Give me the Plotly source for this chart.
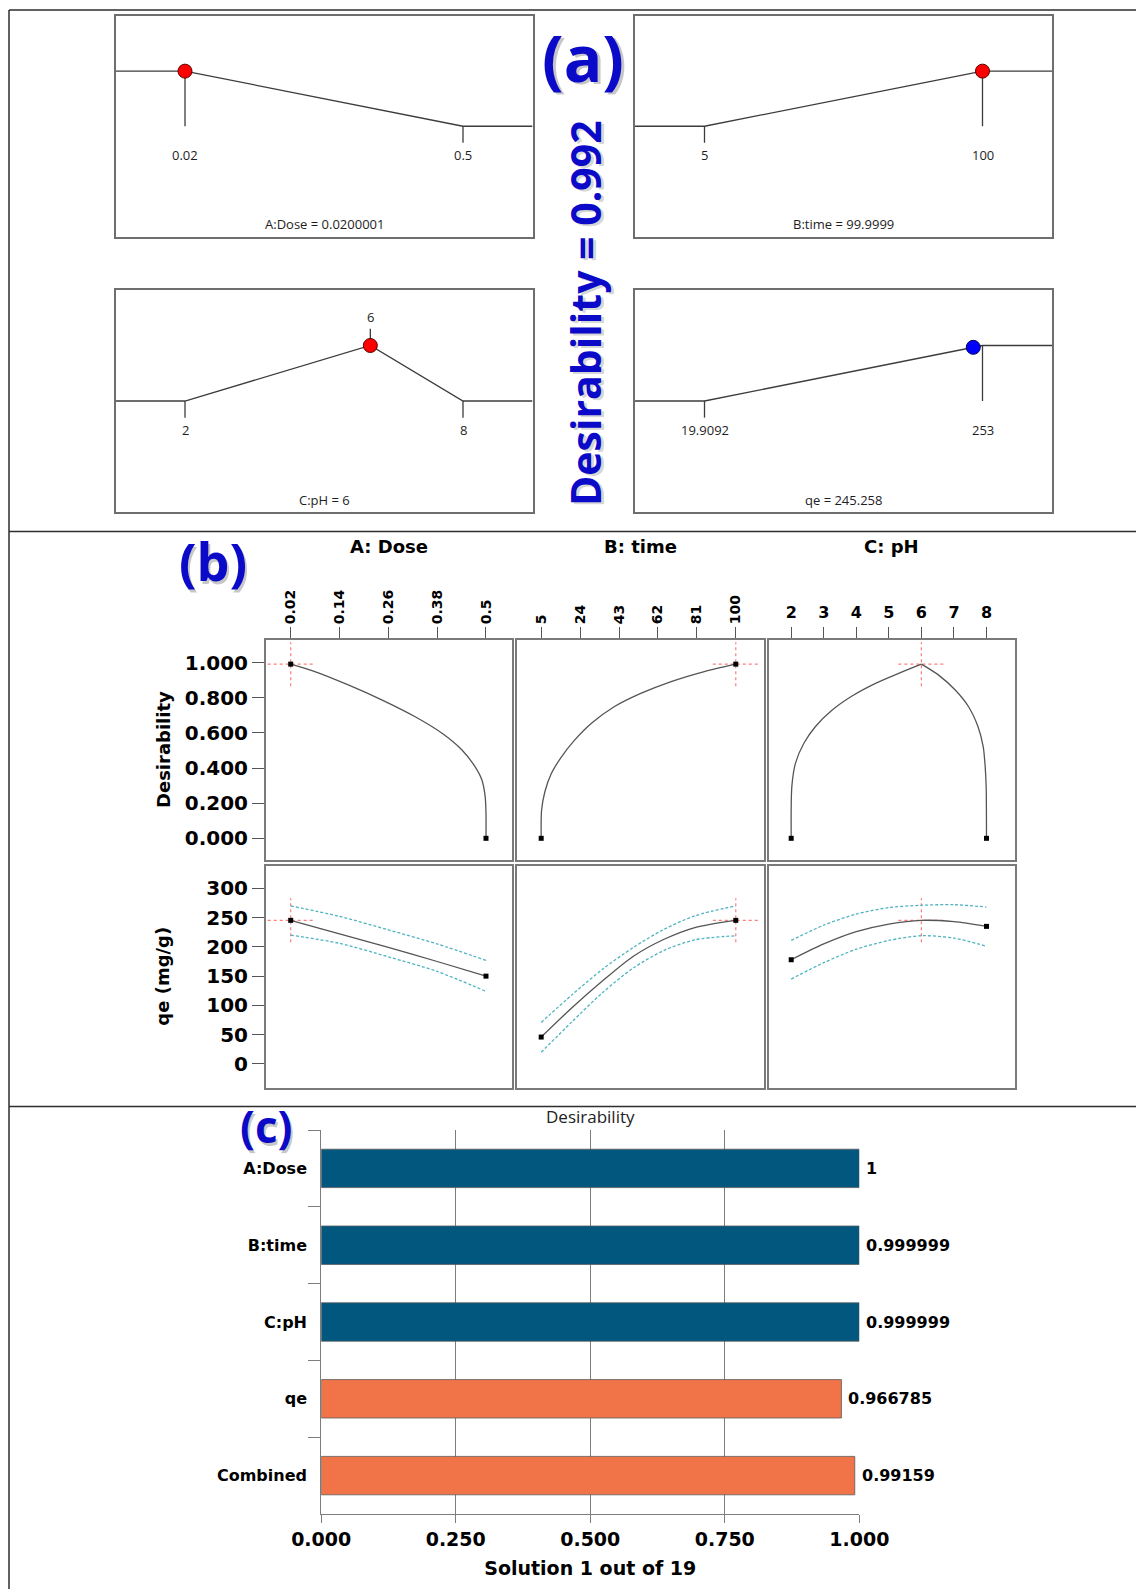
import plotly.graph_objects as go

W, H = 1144, 1589
OFF = 8  # the page body margin shifts the whole figure by this many pixels

# ======================= DATA =======================
# (a) optimisation ramps
ramp_low = [0.02, 5, 2, 19.9092]
ramp_high = [0.5, 100, 8, 253]
ramp_goal = ["minimize", "maximize", "target", "maximize"]
ramp_target = [None, None, 6, None]
ramp_low_text = ["0.02", "5", "2", "19.9092"]
ramp_high_text = ["0.5", "100", "8", "253"]
ramp_target_text = [None, None, "6", None]
solution_values = [0.0200001, 99.9999, 6, 245.258]
solution_labels = ["A:Dose = 0.0200001", "B:time = 99.9999", "C:pH = 6", "qe = 245.258"]
solution_dot_color = ["#ff0000", "#ff0000", "#ff0000", "#0000ff"]
overall_desirability_text = "Desirability = 0.992"

# (b) factor effect plots
factor_titles = ["A: Dose", "B: time", "C: pH"]
factor_ticks = [[0.02, 0.14, 0.26, 0.38, 0.5],
                [5, 24, 43, 62, 81, 100],
                [2, 3, 4, 5, 6, 7, 8]]
factor_opt = [0.02, 100, 6]
opt_desirability = 0.99159
opt_qe = 245.258
des_ticks = [0, 0.2, 0.4, 0.6, 0.8, 1.0]
qe_ticks = [0, 50, 100, 150, 200, 250, 300]

desA_x = [0.02, 0.081, 0.163, 0.245, 0.326, 0.392, 0.441, 0.473, 0.490, 0.498, 0.5, 0.5]
desA_y = [0.99159, 0.948, 0.872, 0.787, 0.692, 0.598, 0.503, 0.408, 0.332, 0.237, 0.142, 0.0]
desB_x = [5, 5.2, 6.8, 10.0, 14.9, 21.3, 29.4, 40.6, 53.6, 68.1, 84.2, 100]
desB_y = [0.0, 0.161, 0.265, 0.37, 0.464, 0.559, 0.654, 0.749, 0.825, 0.891, 0.948, 0.99159]
desC_x = [2.0, 2.02, 2.13, 2.39, 2.74, 3.26, 3.87, 4.59, 5.30, 6.0,
          6.53, 7.04, 7.45, 7.74, 7.90, 7.96, 7.99, 8.0]
desC_y = [0.0, 0.294, 0.427, 0.541, 0.635, 0.730, 0.81, 0.882, 0.939, 0.99159,
          0.929, 0.844, 0.749, 0.635, 0.521, 0.408, 0.294, 0.0]

qeA_x = [0.02, 0.14, 0.26, 0.38, 0.5]
qeA = [245.3, 222, 199, 175, 150]
qeA_hi = [270, 252, 229, 205, 177]
qeA_lo = [220, 206, 183, 158, 124]
qeB_x = [5, 20, 35, 50, 65, 80, 100]
qeB = [46, 96, 142, 184, 213, 233, 245.3]
qeB_hi = [71, 118, 162, 199, 230, 253, 270]
qeB_lo = [20, 72, 122, 164, 194, 212, 219]
qeC_x = [2, 3, 4, 5, 6, 7, 8]
qeC = [178, 205, 226, 239, 245.3, 243, 235]
qeC_hi = [211, 237, 256, 267, 271, 272, 268]
qeC_lo = [145, 173, 196, 211, 219, 215, 201]

# (c) desirability bars
bar_labels = ["A:Dose", "B:time", "C:pH", "qe", "Combined"]
bar_values = [1, 0.999999, 0.999999, 0.966785, 0.99159]
bar_colors = ["#02577f", "#02577f", "#02577f", "#f07448", "#f07448"]
bar_xticks = [0, 0.25, 0.5, 0.75, 1.0]
bar_xtitle = "Solution 1 out of 19"
bar_title = "Desirability"

# ======================= FIGURE =======================
fig = go.Figure()
BLUE = "#0a0ac8"
BOLD = "DejaVu Sans"
THIN = "Open Sans"


def dom_x(p0, p1):
    return [max(0, (p0 - OFF) / W), min(1, (p1 - OFF) / W)]


def dom_y(p0, p1):
    return [max(0, 1 - (p1 - OFF) / H), min(1, 1 - (p0 - OFF) / H)]


axis_count = [0]


def new_axes(xd, yd, xkw, ykw):
    axis_count[0] += 1
    n = axis_count[0]
    s = "" if n == 1 else str(n)
    fig.update_layout(**{"xaxis" + s: dict(domain=xd, anchor="y" + s, automargin=False, **xkw),
                         "yaxis" + s: dict(domain=yd, anchor="x" + s, automargin=False, **ykw)})
    return "x" + s, "y" + s


def ann_px(text, xpx, ypx, size, color, family, weight="normal", angle=0,
           xanchor="center", yanchor="middle"):
    fig.add_annotation(text=text, x=(xpx - OFF) / W, y=1 - (ypx - OFF) / H,
                       xref="paper", yref="paper",
                       showarrow=False, textangle=angle, xanchor=xanchor, yanchor=yanchor,
                       font=dict(size=size, color=color, family=family, weight=weight))


# ---------- (a) ----------
a_box_x = [(115.5, 532.5), (635, 1052), (115.5, 532.5), (635, 1052)]
a_box_y = [(16, 236.5), (16, 236.5), (290, 512), (290, 512)]
a_line = dict(color="#3c3c3c", width=1.3)
for i in range(4):
    lo, hi = ramp_low[i], ramp_high[i]
    span = hi - lo
    xmin, xmax = lo - 0.25 * span, hi + 0.25 * span
    style = dict(showline=True, mirror=True, linecolor="#6e6e6e", linewidth=1.5,
                 showgrid=False, zeroline=False, showticklabels=False, ticks="",
                 fixedrange=True)
    xr, yr = new_axes(dom_x(*a_box_x[i]), dom_y(*a_box_y[i]),
                      dict(range=[xmin, xmax], **style), dict(range=[-2, 2], **style))
    g = ramp_goal[i]
    if g == "minimize":
        rx, ry = [xmin, lo, hi, xmax], [1, 1, 0, 0]
        seg_x = [lo, lo, None, hi, hi]
        seg_y = [1, 0, None, 0, -0.3]
    elif g == "maximize":
        rx, ry = [xmin, lo, hi, xmax], [0, 0, 1, 1]
        seg_x = [lo, lo, None, hi, hi]
        seg_y = [0, -0.3, None, 1, 0]
    else:
        t = ramp_target[i]
        rx, ry = [xmin, lo, t, hi, xmax], [0, 0, 1, 0, 0]
        seg_x = [lo, lo, None, hi, hi, None, t, t]
        seg_y = [0, -0.3, None, 0, -0.3, None, 1, 1.3]
    fig.add_trace(go.Scatter(x=rx, y=ry, mode="lines", line=a_line, xaxis=xr, yaxis=yr,
                             hoverinfo="skip", showlegend=False))
    fig.add_trace(go.Scatter(x=seg_x, y=seg_y, mode="lines", line=a_line, xaxis=xr, yaxis=yr,
                             hoverinfo="skip", showlegend=False))
    sv = solution_values[i]
    if g == "minimize":
        sd = (hi - sv) / span
    elif g == "maximize":
        sd = (sv - lo) / span
    else:
        sd = 1.0
    sd = min(1.0, max(0.0, sd))
    dc = solution_dot_color[i]
    fig.add_trace(go.Scatter(x=[sv], y=[sd], mode="markers", xaxis=xr, yaxis=yr,
                             marker=dict(size=14, color=dc,
                                         line=dict(color="#5a0000" if dc == "#ff0000" else "#00005a", width=1)),
                             hoverinfo="skip", showlegend=False, cliponaxis=False))
    tf = dict(size=13, color="#1e1e1e", family=THIN)
    fig.add_annotation(x=lo, y=-0.53, xref=xr, yref=yr, text=ramp_low_text[i], showarrow=False, font=tf)
    fig.add_annotation(x=hi, y=-0.53, xref=xr, yref=yr, text=ramp_high_text[i], showarrow=False, font=tf)
    if ramp_target_text[i]:
        fig.add_annotation(x=ramp_target[i], y=1.52, xref=xr, yref=yr, text=ramp_target_text[i],
                           showarrow=False, font=tf)
    fig.add_annotation(x=(xmin + xmax) / 2, y=-1.78, xref=xr, yref=yr, text=solution_labels[i],
                       showarrow=False, font=tf)

# panel label (a) and overall desirability, with a soft shadow
ann_px("(a)", 586, 60, 64, "rgba(0,0,0,0.22)", THIN, "bold")
ann_px("(a)", 583, 57, 64, BLUE, THIN, "bold")
ann_px(overall_desirability_text, 588, 315, 41, "rgba(0,0,0,0.18)", THIN, "bold", angle=-90)
ann_px(overall_desirability_text, 585, 313, 41, BLUE, THIN, "bold", angle=-90)

# ---------- (b) ----------
col_px = [(266, 511.7), (516.9, 764), (768.6, 1015)]
row_px = [(640, 860), (865.7, 1087.7)]
x_ranges = [[-0.0407, 0.5632], [-6.86, 113.77], [1.306, 8.876]]
y_ranges = [[-0.1235, 1.129], [-40.5, 338.6]]
des_curves = [(desA_x, desA_y), (desB_x, desB_y), (desC_x, desC_y)]
qe_curves = [(qeA_x, qeA, qeA_hi, qeA_lo), (qeB_x, qeB, qeB_hi, qeB_lo), (qeC_x, qeC, qeC_hi, qeC_lo)]

curve_line = dict(color="#555555", width=1.3, shape="spline", smoothing=0.8)
ci_line = dict(color="#4fb4c0", width=1.3, dash="3px,2px", shape="spline", smoothing=0.8)
cross_line = dict(color="rgba(255,110,110,0.9)", width=1.2, dash="dot")
box_kw = dict(showline=True, mirror=True, linecolor="#7a7a7a", linewidth=2,
              showgrid=False, zeroline=False, fixedrange=True)
tickfont_x = dict(family=BOLD, size=14, color="#000", weight="bold")
tickfont_xc = dict(family=BOLD, size=16, color="#000", weight="bold")
tickfont_y = dict(family=BOLD, size=20, color="#000", weight="bold")

for r in range(2):
    for j in range(3):
        xkw = dict(range=x_ranges[j], **box_kw)
        if r == 0:
            xkw.update(side="top", tickmode="array", tickvals=factor_ticks[j],
                       ticktext=[f"{v:g}" for v in factor_ticks[j]], ticks="outside",
                       ticklen=11, tickwidth=1.3, tickcolor="#555",
                       tickfont=tickfont_x if j < 2 else tickfont_xc,
                       tickangle=-90 if j < 2 else 0, ticklabelstandoff=0 if j < 2 else 3)
        else:
            xkw.update(showticklabels=False, ticks="")
        ykw = dict(range=y_ranges[r], **box_kw)
        if j == 0:
            tv = des_ticks if r == 0 else qe_ticks
            ykw.update(tickmode="array", tickvals=tv,
                       ticktext=[f"{v:.3f}" for v in tv] if r == 0 else [f"{v:g}" for v in tv],
                       ticks="outside", ticklen=12, tickwidth=1.3, tickcolor="#555",
                       tickfont=tickfont_y, ticklabelstandoff=0)
        else:
            ykw.update(showticklabels=False, ticks="")
        xr, yr = new_axes(dom_x(*col_px[j]), dom_y(*row_px[r]), xkw, ykw)

        # pixel scale for the cross-hair at the optimum
        ppx = (col_px[j][1] - col_px[j][0]) / (x_ranges[j][1] - x_ranges[j][0])
        ppy = (row_px[r][1] - row_px[r][0]) / (y_ranges[r][1] - y_ranges[r][0])
        hx, hy = 23 / ppx, 22 / ppy
        ox = factor_opt[j]
        oy = opt_desirability if r == 0 else opt_qe
        fig.add_trace(go.Scatter(x=[ox - hx, ox + hx, None, ox, ox], y=[oy, oy, None, oy - hy, oy + hy],
                                 mode="lines", line=cross_line, xaxis=xr, yaxis=yr,
                                 hoverinfo="skip", showlegend=False))
        if r == 0:
            cx, cy = des_curves[j]
            k = cy.index(max(cy))
            parts = [(cx[:k + 1], cy[:k + 1]), (cx[k:], cy[k:])]
            for px_, py_ in parts:
                if len(px_) > 1:
                    fig.add_trace(go.Scatter(x=px_, y=py_, mode="lines", line=curve_line,
                                             xaxis=xr, yaxis=yr, hoverinfo="skip", showlegend=False))
            ex, ey = [cx[0], cx[-1]], [cy[0], cy[-1]]
        else:
            cx, cm, chi, clo = qe_curves[j]
            for yy, ln in ((chi, ci_line), (clo, ci_line), (cm, curve_line)):
                fig.add_trace(go.Scatter(x=cx, y=yy, mode="lines", line=ln, xaxis=xr, yaxis=yr,
                                         hoverinfo="skip", showlegend=False))
            ex, ey = [cx[0], cx[-1]], [cm[0], cm[-1]]
        fig.add_trace(go.Scatter(x=ex, y=ey, mode="markers", xaxis=xr, yaxis=yr,
                                 marker=dict(symbol="square", size=5, color="#000"),
                                 hoverinfo="skip", showlegend=False, cliponaxis=False))

for j in range(3):
    ann_px(factor_titles[j], (col_px[j][0] + col_px[j][1]) / 2, 546.5, 18, "#000", BOLD, "bold")
ann_px("Desirability", 163, 750, 18, "#000", BOLD, "bold", angle=-90)
ann_px("qe (mg/g)", 163, 976.7, 18, "#000", BOLD, "bold", angle=-90)
ann_px("(b)", 215, 563, 52, "rgba(0,0,0,0.22)", THIN, "bold")
ann_px("(b)", 212.5, 560, 52, BLUE, THIN, "bold")

# ---------- (c) ----------
xc, yc = new_axes(dom_x(321.2, 859.3), dom_y(1130, 1514),
                  dict(range=[0, 1], tickmode="array", tickvals=bar_xticks,
                       ticktext=[f"{v:.3f}" for v in bar_xticks], showgrid=True,
                       gridcolor="#7d7d7d", gridwidth=1, ticks="outside", ticklen=8,
                       tickcolor="#7d7d7d", showline=True, linecolor="#7d7d7d", linewidth=1,
                       zeroline=False, fixedrange=True, ticklabelstandoff=0,
                       tickfont=dict(family=BOLD, size=19, color="#000", weight="bold"),
                       title=dict(text=bar_xtitle, standoff=12,
                                  font=dict(family=BOLD, size=19, color="#000", weight="bold"))),
                  dict(type="category", categoryorder="array", categoryarray=bar_labels,
                       autorange="reversed", showline=True, linecolor="#7d7d7d", linewidth=1,
                       ticks="outside", tickson="boundaries", ticklen=12, tickcolor="#7d7d7d",
                       showgrid=False, zeroline=False, fixedrange=True, ticklabelstandoff=10,
                       tickfont=dict(family=BOLD, size=16, color="#000", weight="bold")))
fig.add_trace(go.Bar(x=bar_values, y=bar_labels, orientation="h", xaxis=xc, yaxis=yc,
                     marker=dict(color=bar_colors, line=dict(color="#5a5a5a", width=0.8)),
                     width=0.5, hoverinfo="skip", showlegend=False))
for lab, v in zip(bar_labels, bar_values):
    fig.add_annotation(x=v, y=lab, xref=xc, yref=yc, text=f"{v:g}", showarrow=False,
                       xanchor="left", xshift=5,
                       font=dict(family=BOLD, size=16, color="#000", weight="bold"))
ann_px(bar_title, 590.3, 1116, 17, "#222", THIN)
ann_px("(c)", 268, 1129, 44, "rgba(0,0,0,0.22)", THIN, "bold")
ann_px("(c)", 265.5, 1126, 44, BLUE, THIN, "bold")

# ---------- frame ----------
frame = dict(color="#2e2e2e", width=1.5)
for (x0, y0, x1, y1) in [(9, 10, 9, H + OFF), (9, 10, W + OFF, 10),
                         (9, 531.5, W + OFF, 531.5), (9, 1106.5, W + OFF, 1106.5)]:
    fig.add_shape(type="line", xref="paper", yref="paper", x0=(x0 - OFF) / W, x1=(x1 - OFF) / W,
                  y0=1 - (y0 - OFF) / H, y1=1 - (y1 - OFF) / H, line=frame)

fig.update_layout(width=W, height=H, margin=dict(l=0, r=0, t=0, b=0, pad=0),
                  paper_bgcolor="white", plot_bgcolor="white", showlegend=False,
                  bargap=0.5)
fig.write_html("out.html")
